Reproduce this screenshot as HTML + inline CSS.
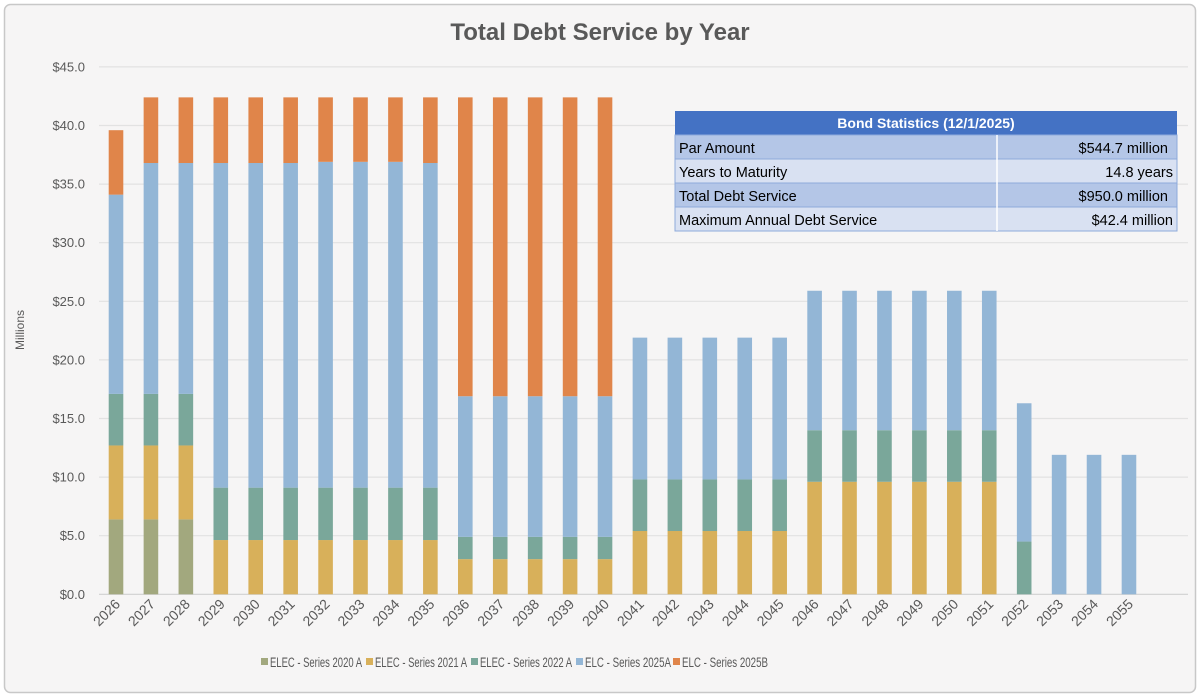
<!DOCTYPE html>
<html><head><meta charset="utf-8"><style>
html,body{margin:0;padding:0;background:#fff;}
svg{display:block;font-family:"Liberation Sans",sans-serif;}
</style></head><body>
<svg id="c" width="1200" height="697" xmlns="http://www.w3.org/2000/svg">
<rect x="4.5" y="4.5" width="1191" height="688" rx="6" fill="#f6f5f5" stroke="#c8c8c8" stroke-width="1.5"/>
<text x="600" y="40" text-anchor="middle" font-size="24" font-weight="bold" fill="#595959">Total Debt Service by Year</text>
<text transform="translate(24,330) rotate(-90)" text-anchor="middle" font-size="12" fill="#595959">Millions</text>
<g id="grid"></g><g id="bars"></g><g id="xl"></g>
<g font-size="13.5" fill="#595959">
<rect x="261" y="658" width="7" height="7" fill="#a2a87e"/><text x="270" y="667" textLength="92" lengthAdjust="spacingAndGlyphs">ELEC - Series 2020 A</text>
<rect x="366" y="658" width="7" height="7" fill="#d8b05a"/><text x="375" y="667" textLength="92" lengthAdjust="spacingAndGlyphs">ELEC - Series 2021 A</text>
<rect x="471" y="658" width="7" height="7" fill="#7aa79a"/><text x="480" y="667" textLength="92" lengthAdjust="spacingAndGlyphs">ELEC - Series 2022 A</text>
<rect x="576" y="658" width="7" height="7" fill="#93b6d6"/><text x="585" y="667" textLength="86" lengthAdjust="spacingAndGlyphs">ELC - Series 2025A</text>
<rect x="673" y="658" width="7" height="7" fill="#e0854a"/><text x="682" y="667" textLength="86" lengthAdjust="spacingAndGlyphs">ELC - Series 2025B</text>
</g>
<g id="tbl" font-size="14.5" fill="#000">
<rect x="675" y="111" width="502" height="24" fill="#4472c4"/>
<text x="926" y="128" text-anchor="middle" font-weight="bold" fill="#fff" font-size="14">Bond Statistics (12/1/2025)</text>
<rect x="675" y="135" width="502" height="24" fill="#b4c6e7" stroke="#8eaadb"/>
<rect x="675" y="159" width="502" height="24" fill="#d9e1f2" stroke="#8eaadb"/>
<rect x="675" y="183" width="502" height="24" fill="#b4c6e7" stroke="#8eaadb"/>
<rect x="675" y="207" width="502" height="24" fill="#d9e1f2" stroke="#8eaadb"/>
<line x1="997" y1="135" x2="997" y2="231" stroke="#fff" stroke-width="1.5"/>
<text x="679" y="153">Par Amount</text><text x="1168" y="153" text-anchor="end">$544.7 million</text>
<text x="679" y="177">Years to Maturity</text><text x="1173" y="177" text-anchor="end">14.8 years</text>
<text x="679" y="201">Total Debt Service</text><text x="1168" y="201" text-anchor="end">$950.0 million</text>
<text x="679" y="225">Maximum Annual Debt Service</text><text x="1173" y="225" text-anchor="end">$42.4 million</text>
</g>
</svg>
<script>
(function(){
var NS="http://www.w3.org/2000/svg";
function el(t,a,p,txt){var e=document.createElementNS(NS,t);for(var k in a)e.setAttribute(k,a[k]);if(txt)e.textContent=txt;p.appendChild(e);return e;}
var y0=594.3,k=11.72;
var g=document.getElementById('grid');
for(var v=0;v<=45;v+=5){var y=y0-v*k;
el('line',{x1:99,x2:1188,y1:y,y2:y,stroke:v==0?'#d0d0d0':'#e2e2e2','stroke-width':1.2},g);
el('text',{x:85,y:y+4.5,'text-anchor':'end','font-size':13,fill:'#595959'},g,'$'+v.toFixed(1));}
var cols=['#a2a87e','#d8b05a','#7aa79a','#93b6d6','#e0854a'];
var d=[];
d.push([6.39,12.7,17.1,34.1,39.6]);
for(var i=0;i<2;i++)d.push([6.39,12.7,17.1,36.8,42.4]);
for(var i=0;i<7;i++)d.push([0,4.63,9.1,(i>=3&&i<=5)?36.9:36.8,42.4]);
for(var i=0;i<5;i++)d.push([0,3.0,4.9,16.9,42.4]);
for(var i=0;i<5;i++)d.push([0,5.4,9.8,21.9,21.9]);
for(var i=0;i<6;i++)d.push([0,9.6,14.0,25.9,25.9]);
d.push([0,0,4.5,16.3,16.3]);
for(var i=0;i<3;i++)d.push([0,0,0,11.9,11.9]);
var b=document.getElementById('bars'),xl=document.getElementById('xl');
for(var j=0;j<30;j++){var cx=116+j*34.93,prev=0;
for(var s=0;s<5;s++){var tv=d[j][s];if(tv>prev){el('rect',{x:cx-7.3,width:14.6,y:y0-tv*k,height:(tv-prev)*k,fill:cols[s]},b);prev=tv;}}
el('text',{transform:'translate('+(cx+5)+',605) rotate(-45)','text-anchor':'end','font-size':14,fill:'#595959'},xl,String(2026+j));}
})();
</script>
</body></html>
